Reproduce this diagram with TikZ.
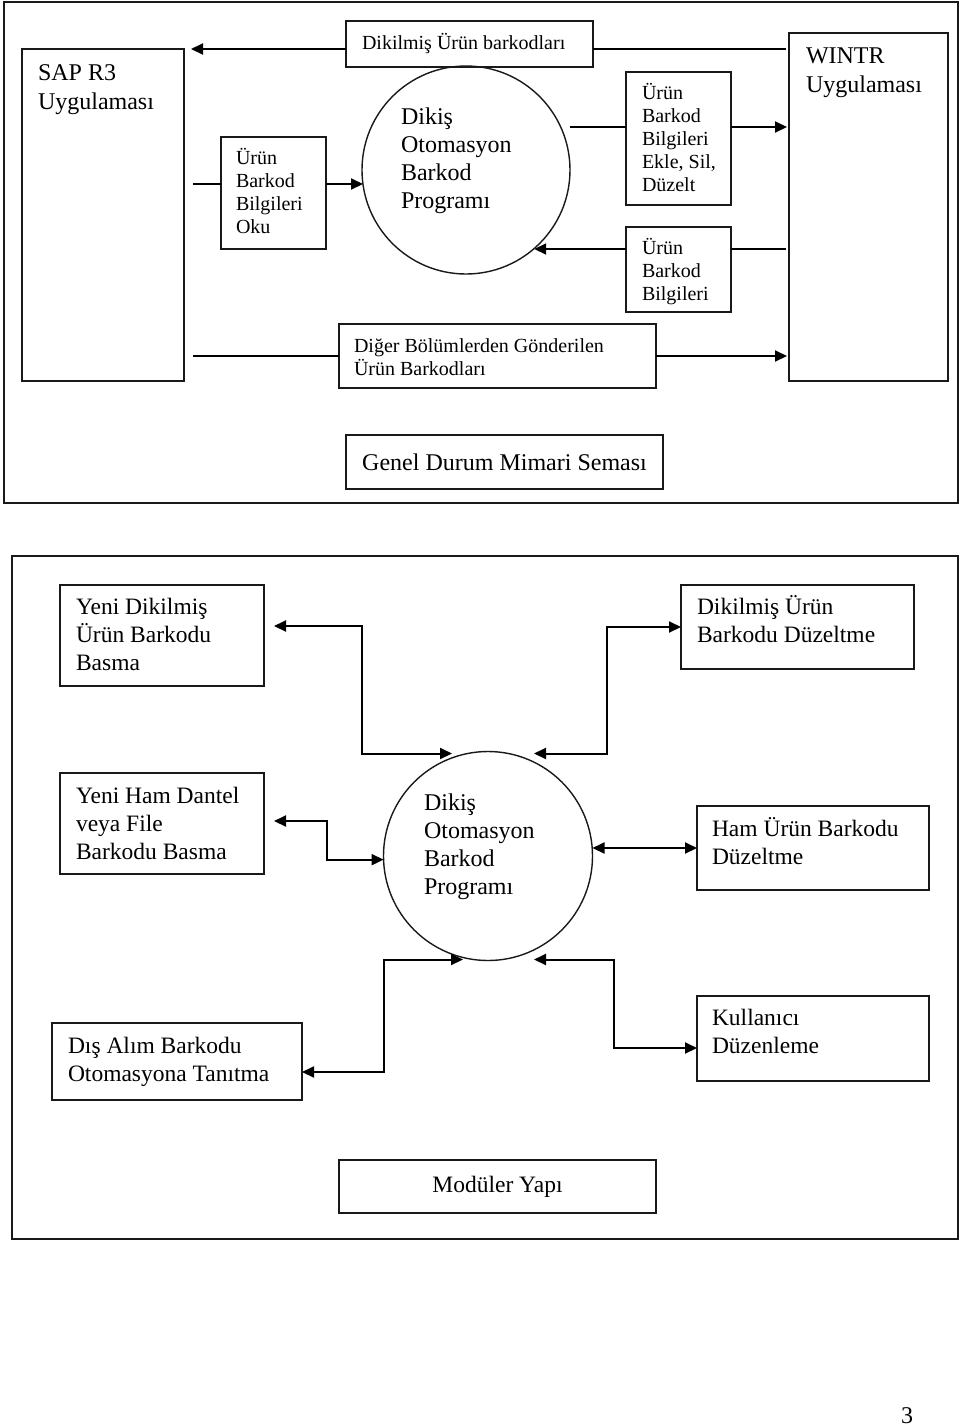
\documentclass[tikz,border=0pt]{standalone}
\usepackage{fontspec}
\setmainfont{Liberation Serif}
\usetikzlibrary{calc,positioning,arrows.meta}
\newcommand{\bigfnt}{\fontsize{24}{29}\selectfont}
\newcommand{\midfnt}{\fontsize{23.5}{28}\selectfont}
\newcommand{\circfnt}{\fontsize{24}{27.7}\selectfont}
\newcommand{\smallfnt}{\fontsize{20}{23}\selectfont}

\begin{document}
\begin{tikzpicture}[x=1pt,y=-1pt]
\def\linecol{black!90}

\tikzset{every path/.style={line width=2pt}}
\tikzset{every node/.style={rectangle, draw=none, inner sep=0pt, outer sep=0pt}}
\tikzset{box/.style={draw=\linecol, line width=1.7pt, anchor=north west}}
%% base = baseline of the last line
\tikzset{txt/.style={anchor=base west, align=left}}
\tikzset{blob/.style={circle, draw=\linecol, line width=1.4pt}}
\tikzset{flow/.style={draw=black, line width=2pt, >={Triangle[length=12pt,width=11pt]}}}
\useasboundingbox (0,0) rectangle (960,1427);
%%%%%% Genel Durum Mimari Semasi
\node(frameA)at(4,2)[box,minimum width=954pt,minimum height=501pt]{};
\node(sap)at(22,49)[box,minimum width=162pt,minimum height=332pt]{};
\node(saptxt)at(38,109)[txt,font=\bigfnt]{SAP R3\\Uygulaması};
\node(wintr)at(789,33)[box,minimum width=159pt,minimum height=348pt]{};
\node(wintrtxt)at(806,92)[txt,font=\bigfnt]{WINTR\\Uygulaması};

\node(dikbox)at(346,21)[box,minimum width=247pt,minimum height=46pt]{};
\node(diktxt)at(362,49)[txt,font=\smallfnt]{Dikilmiş Ürün barkodları};
\node(oku)at(221,137)[box,minimum width=105pt,minimum height=112pt]{};
\node(okutxt)at(236,233)[txt,font=\smallfnt]{Ürün\\Barkod\\Bilgileri\\Oku};
\node(circA)at(466,170)[blob,minimum size=208pt]{};
\node(circAtxt)at(401,208)[txt,font=\circfnt]{Dikiş\\Otomasyon\\Barkod\\Programı};
\node(ekle)at(626,72)[box,minimum width=105pt,minimum height=133pt]{};
\node(ekletxt)at(642,191)[txt,font=\smallfnt]{Ürün\\Barkod\\Bilgileri\\Ekle, Sil,\\Düzelt};
\node(bilgi)at(626,227)[box,minimum width=105pt,minimum height=85pt]{};
\node(bilgitxt)at(642,300)[txt,font=\smallfnt]{Ürün\\Barkod\\Bilgileri};
\node(diger)at(339,324)[box,minimum width=317pt,minimum height=64pt]{};
\node(digertxt)at(354,375)[txt,font=\smallfnt]{Diğer Bölümlerden Gönderilen\\Ürün Barkodları};
\node(genel)at(346,435)[box,minimum width=317pt,minimum height=54pt,font=\bigfnt]{Genel Durum Mimari Seması};

%%%%%% arrows top
\draw[flow] ($(wintr.west |- sap.north)+(-3,0)$) -- (dikbox.east |- sap.north);
\draw[flow,->] (dikbox.west |- sap.north) -- ($(sap.north east)+(7,0)$);
\coordinate(okuin)at($(oku.west)+(0,-9)$);
\coordinate(okuout)at($(oku.east)+(0,-9)$);
\draw[flow] ($(sap.east |- okuin)+(9,0)$) -- (okuin);
\draw[flow,->] (okuout) -- (okuout -| circA.188);
\coordinate(eklein)at($(ekle.west)+(0,-11.5)$);
\draw[flow] (eklein -| circA.east) -- (eklein);
\draw[flow,->] (eklein -| ekle.east) -- ($(eklein -| wintr.west)+(-2,0)$);
\coordinate(bilgiin)at($(bilgi.east)+(0,-20.5)$);
\draw[flow] ($(bilgiin -| wintr.west)+(-3,0)$) -- (bilgiin);
\draw[flow,->] (bilgiin -| bilgi.west) -- (bilgiin -| circA.311);
\draw[flow] ($(sap.east |- diger.west)+(9,0)$) -- (diger.west);
\draw[flow,->] (diger.east) -- ($(wintr.west |- diger.east)+(-2,0)$);

%%%%%% Moduler Yapi
\node(frameB)at(12,556)[box,minimum width=946pt,minimum height=683pt]{};
\node(yd)at(60,585)[box,minimum width=204pt,minimum height=101pt]{};
\node(ydtxt)at(76,670)[txt,font=\midfnt]{Yeni Dikilmiş\\Ürün Barkodu\\Basma};
\node(dd)at(681,585)[box,minimum width=233pt,minimum height=84pt]{};
\node(ddtxt)at(697,642)[txt,font=\midfnt]{Dikilmiş Ürün\\Barkodu Düzeltme};
\node(yh)at(60,773)[box,minimum width=204pt,minimum height=101pt]{};
\node(yhtxt)at(76,859)[txt,font=\midfnt]{Yeni Ham Dantel\\veya File\\Barkodu Basma};
\node(circB)at(488,856)[blob,minimum size=209pt]{};
\node(circBtxt)at(424,894)[txt,font=\circfnt]{Dikiş\\Otomasyon\\Barkod\\Programı};
\node(hu)at(697,806)[box,minimum width=232pt,minimum height=84pt]{};
\node(hutxt)at(712,864)[txt,font=\midfnt]{Ham Ürün Barkodu\\Düzeltme};
\node(da)at(52,1023)[box,minimum width=250pt,minimum height=77pt]{};
\node(datxt)at(68,1081)[txt,font=\midfnt]{Dış Alım Barkodu\\Otomasyona Tanıtma};
\node(ku)at(697,996)[box,minimum width=232pt,minimum height=85pt]{};
\node(kutxt)at(712,1053)[txt,font=\midfnt]{Kullanıcı\\Düzenleme};
\node(mod)at(339,1160)[box,minimum width=317pt,minimum height=53pt,font=\midfnt]{Modüler Yapı};

%%%%%% arrows bottom
\coordinate(cBtl)at($(circB.north)+(-36,2)$);
\coordinate(cBtr)at($(circB.north)+(46,2)$);
\coordinate(cBbl)at($(circB.south)+(-25,-1)$);
\coordinate(cBbr)at($(circB.south)+(46,-1)$);
\coordinate(ydp)at($(yd.east)+(0,-9.5)$);
\coordinate(yhp)at($(yh.east)+(0,-2.5)$);
\coordinate(dap)at($(da.east)+(0,10.5)$);
\coordinate(kup)at($(ku.west)+(0,9.5)$);
\draw[flow,<->,shorten <=10pt] (ydp) -- ++(98,0) |- (cBtl);
\draw[flow,<->] (cBtr) -- ++(73,0) |- (dd.west);
\draw[flow,<->,shorten <=10pt] (yhp) -- ++(63,0) |- (circB.182);
\draw[flow,<->] (hu.west -| circB.east) -- (hu.west);
\draw[flow,<->] (dap) -- ++(82,0) |- (cBbl);
\draw[flow,<->] (cBbr) -- ++(80,0) |- (kup);

\node(pagenum)at(907,1416)[font=\bigfnt]{3};
\end{tikzpicture}
\end{document}
